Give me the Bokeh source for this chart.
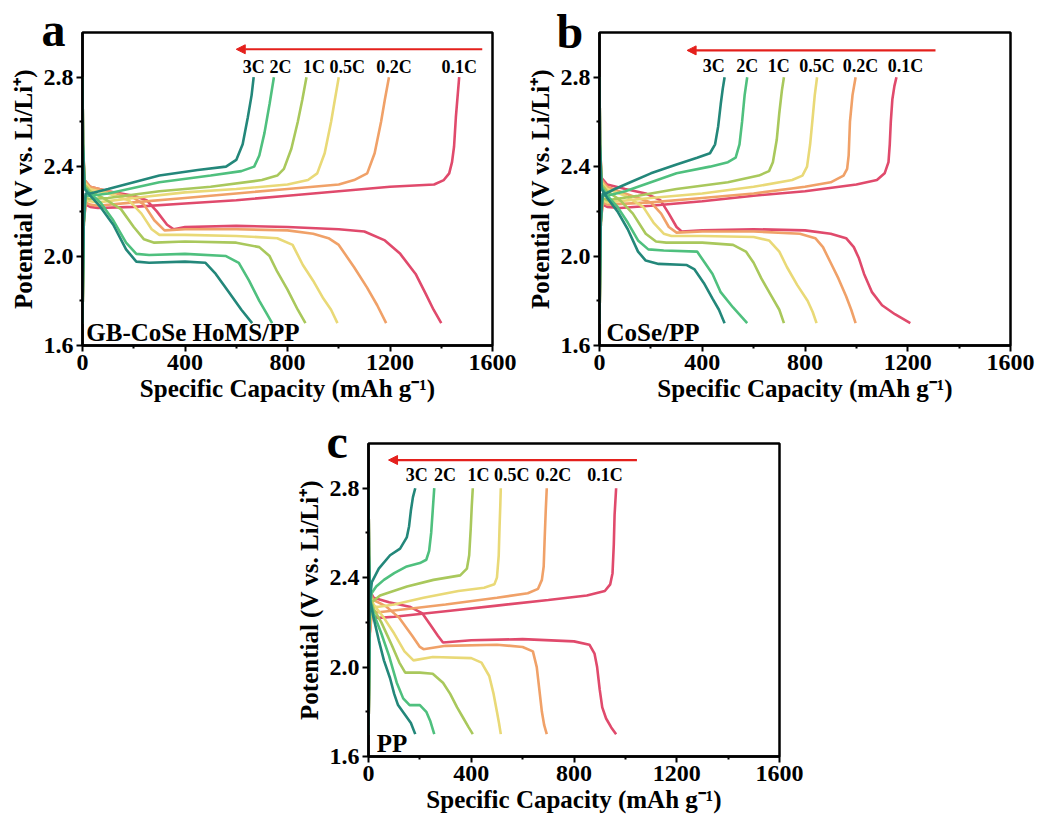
from bokeh.plotting import figure
from bokeh.layouts import column, row
from bokeh.models import (Range1d, FixedTicker, Label, Arrow, NormalHead, Spacer)
from bokeh.embed import file_html
from bokeh.resources import INLINE

# ---------------- data ----------------
rates = ["0.1C", "0.2C", "0.5C", "1C", "2C", "3C"]
colors = ["#e04a6c", "#f0a168", "#e9d977", "#a9c85c", "#4fc07e", "#23877a"]

x_ticks = [0, 400, 800, 1200, 1600]
x_minor = [200, 600, 1000, 1400]
y_ticks = [1.6, 2.0, 2.4, 2.8]
y_minor = [1.8, 2.2, 2.6]
x_tick_labels = ["0", "400", "800", "1200", "1600"]
y_tick_labels = ["1.6", "2.0", "2.4", "2.8"]

# Panel a : GB-CoSe HoMS/PP
a_dis_x = [
    [0, 2, 8, 30, 100, 200, 250, 290, 330, 356, 400, 600, 800, 1000, 1100, 1180, 1240, 1300, 1340, 1370, 1400],
    [0, 2, 8, 30, 100, 200, 240, 280, 320, 400, 600, 800, 900, 960, 1000, 1060, 1110, 1150, 1185],
    [0, 2, 8, 30, 100, 180, 230, 270, 300, 400, 600, 760, 820, 860, 900, 940, 970, 995],
    [0, 2, 8, 30, 80, 150, 200, 240, 280, 400, 600, 690, 730, 760, 800, 840, 870],
    [0, 2, 8, 30, 70, 120, 170, 210, 260, 400, 560, 610, 650, 690, 720, 740],
    [0, 2, 8, 30, 70, 120, 170, 210, 260, 400, 480, 520, 570, 620, 662],
]
a_dis_y = [
    [2.80, 2.50, 2.34, 2.31, 2.29, 2.27, 2.25, 2.20, 2.14, 2.12, 2.13, 2.135, 2.13, 2.12, 2.11, 2.07, 2.01, 1.92, 1.83, 1.76, 1.70],
    [2.80, 2.50, 2.34, 2.31, 2.29, 2.26, 2.23, 2.16, 2.115, 2.12, 2.12, 2.115, 2.10, 2.08, 2.05, 1.95, 1.86, 1.78, 1.70],
    [2.80, 2.50, 2.33, 2.30, 2.28, 2.25, 2.19, 2.12, 2.095, 2.095, 2.09, 2.08, 2.05, 1.96, 1.89, 1.81, 1.76, 1.70],
    [2.80, 2.50, 2.32, 2.29, 2.26, 2.21, 2.13, 2.075, 2.06, 2.065, 2.06, 2.04, 2.00, 1.93, 1.85, 1.76, 1.70],
    [2.80, 2.50, 2.31, 2.28, 2.24, 2.16, 2.06, 2.01, 2.005, 2.01, 2.00, 1.97, 1.89, 1.80, 1.74, 1.70],
    [2.80, 2.50, 2.30, 2.27, 2.22, 2.14, 2.03, 1.975, 1.97, 1.975, 1.97, 1.92, 1.84, 1.76, 1.70],
]
a_chg_x = [
    [0, 2, 5, 12, 30, 60, 200, 400, 600, 800, 1000, 1200, 1372, 1410, 1431, 1442, 1450, 1457, 1470],
    [0, 2, 5, 12, 30, 60, 200, 400, 600, 800, 1000, 1060, 1111, 1140, 1165, 1180, 1196],
    [0, 2, 5, 12, 30, 60, 200, 400, 600, 800, 880, 916, 945, 970, 985, 1000],
    [0, 2, 5, 12, 30, 100, 300, 500, 700, 760, 786, 815, 840, 858, 874],
    [0, 2, 5, 12, 30, 100, 300, 500, 620, 670, 690, 710, 730, 747],
    [0, 2, 5, 12, 30, 100, 200, 300, 450, 560, 600, 625, 645, 660, 668],
]
a_chg_y = [
    [1.70, 1.90, 2.15, 2.23, 2.22, 2.215, 2.22, 2.235, 2.25, 2.27, 2.29, 2.31, 2.32, 2.34, 2.37, 2.42, 2.49, 2.62, 2.80],
    [1.70, 1.90, 2.15, 2.24, 2.23, 2.225, 2.24, 2.26, 2.28, 2.30, 2.32, 2.34, 2.37, 2.46, 2.60, 2.70, 2.80],
    [1.70, 1.90, 2.15, 2.25, 2.245, 2.24, 2.26, 2.285, 2.30, 2.32, 2.34, 2.37, 2.46, 2.60, 2.70, 2.80],
    [1.70, 1.90, 2.15, 2.26, 2.255, 2.26, 2.29, 2.31, 2.34, 2.36, 2.39, 2.48, 2.60, 2.70, 2.80],
    [1.70, 1.90, 2.15, 2.27, 2.27, 2.28, 2.33, 2.36, 2.38, 2.40, 2.45, 2.55, 2.68, 2.80],
    [1.70, 1.90, 2.15, 2.28, 2.28, 2.30, 2.33, 2.36, 2.385, 2.40, 2.43, 2.50, 2.62, 2.72, 2.80],
]

# Panel b : CoSe/PP
b_dis_x = [
    [0, 2, 8, 30, 100, 180, 237, 270, 300, 320, 400, 600, 800, 900, 960, 990, 1010, 1030, 1060, 1100, 1150, 1210],
    [0, 2, 8, 30, 100, 200, 240, 270, 300, 400, 600, 780, 840, 870, 900, 930, 960, 980, 997],
    [0, 2, 8, 30, 100, 170, 210, 250, 280, 400, 600, 660, 700, 730, 770, 810, 830, 845],
    [0, 2, 8, 30, 80, 130, 180, 220, 260, 400, 520, 570, 600, 630, 670, 700, 718],
    [0, 2, 8, 30, 70, 110, 150, 190, 250, 380, 410, 440, 471, 520, 575],
    [0, 2, 8, 30, 70, 110, 150, 180, 230, 340, 370, 406, 440, 465, 487],
]
b_dis_y = [
    [2.80, 2.50, 2.35, 2.32, 2.30, 2.28, 2.25, 2.19, 2.13, 2.11, 2.115, 2.12, 2.115, 2.10, 2.08, 2.04, 1.99, 1.92, 1.84, 1.78, 1.74, 1.70],
    [2.80, 2.50, 2.34, 2.31, 2.28, 2.24, 2.19, 2.13, 2.105, 2.11, 2.11, 2.10, 2.08, 2.04, 1.97, 1.90, 1.82, 1.76, 1.70],
    [2.80, 2.50, 2.33, 2.30, 2.27, 2.22, 2.15, 2.10, 2.09, 2.09, 2.085, 2.07, 2.02, 1.95, 1.87, 1.80, 1.75, 1.70],
    [2.80, 2.50, 2.32, 2.29, 2.25, 2.19, 2.10, 2.065, 2.06, 2.06, 2.05, 2.02, 1.97, 1.90, 1.82, 1.76, 1.70],
    [2.80, 2.50, 2.31, 2.27, 2.22, 2.15, 2.07, 2.03, 2.025, 2.02, 1.97, 1.92, 1.84, 1.77, 1.70],
    [2.80, 2.50, 2.30, 2.26, 2.20, 2.12, 2.02, 1.98, 1.965, 1.96, 1.94, 1.88, 1.81, 1.76, 1.70],
]
b_chg_x = [
    [0, 2, 5, 12, 30, 80, 200, 400, 600, 800, 1000, 1080, 1110, 1125, 1130, 1134, 1140, 1148, 1156],
    [0, 2, 5, 12, 30, 200, 400, 600, 800, 900, 950, 964, 970, 975, 985, 997],
    [0, 2, 5, 12, 30, 200, 400, 600, 750, 790, 808, 820, 830, 838, 847],
    [0, 2, 5, 12, 30, 150, 300, 500, 620, 660, 675, 690, 700, 710, 718],
    [0, 2, 5, 12, 30, 100, 200, 300, 430, 500, 530, 545, 555, 565, 575],
    [0, 2, 5, 12, 25, 60, 120, 200, 300, 380, 430, 450, 462, 472, 480, 487],
]
b_chg_y = [
    [1.70, 1.90, 2.15, 2.23, 2.22, 2.215, 2.225, 2.245, 2.27, 2.29, 2.32, 2.34, 2.37, 2.42, 2.50, 2.60, 2.70, 2.76, 2.80],
    [1.70, 1.90, 2.15, 2.24, 2.23, 2.24, 2.26, 2.28, 2.31, 2.33, 2.36, 2.39, 2.45, 2.60, 2.72, 2.80],
    [1.70, 1.90, 2.15, 2.25, 2.24, 2.26, 2.28, 2.31, 2.34, 2.36, 2.40, 2.50, 2.62, 2.72, 2.80],
    [1.70, 1.90, 2.15, 2.26, 2.25, 2.27, 2.30, 2.33, 2.36, 2.38, 2.42, 2.52, 2.64, 2.74, 2.80],
    [1.70, 1.90, 2.15, 2.27, 2.27, 2.29, 2.33, 2.37, 2.40, 2.42, 2.44, 2.50, 2.60, 2.72, 2.80],
    [1.70, 1.90, 2.15, 2.28, 2.28, 2.30, 2.33, 2.37, 2.41, 2.44, 2.46, 2.50, 2.58, 2.68, 2.75, 2.80],
]

# Panel c : PP
c_dis_x = [
    [0, 2, 6, 20, 80, 160, 210, 240, 270, 290, 400, 600, 800, 860, 880, 890, 900, 910, 925, 945, 964],
    [0, 2, 6, 20, 70, 120, 170, 200, 214, 300, 500, 600, 640, 655, 665, 675, 684, 694],
    [0, 2, 6, 20, 60, 100, 140, 175, 250, 400, 440, 470, 487, 500, 508, 515],
    [0, 2, 6, 20, 50, 90, 120, 143, 200, 250, 290, 318, 345, 370, 390, 406],
    [0, 2, 6, 20, 50, 80, 110, 135, 160, 200, 225, 240, 256],
    [0, 2, 6, 20, 40, 60, 84, 100, 115, 140, 165, 182],
]
c_dis_y = [
    [2.80, 2.50, 2.34, 2.31, 2.29, 2.27, 2.24, 2.19, 2.14, 2.11, 2.12, 2.125, 2.115, 2.10, 2.06, 2.00, 1.90, 1.82, 1.77, 1.73, 1.70],
    [2.80, 2.50, 2.33, 2.30, 2.27, 2.22, 2.14, 2.09, 2.08, 2.095, 2.10, 2.09, 2.07, 2.00, 1.90, 1.80, 1.74, 1.70],
    [2.80, 2.50, 2.32, 2.28, 2.22, 2.15, 2.07, 2.03, 2.045, 2.04, 2.02, 1.96, 1.88, 1.80, 1.75, 1.70],
    [2.80, 2.50, 2.31, 2.26, 2.20, 2.10, 2.02, 1.975, 1.975, 1.97, 1.93, 1.88, 1.82, 1.77, 1.73, 1.70],
    [2.80, 2.50, 2.30, 2.24, 2.15, 2.05, 1.93, 1.86, 1.83, 1.83, 1.80, 1.76, 1.70],
    [2.80, 2.50, 2.30, 2.22, 2.12, 2.03, 1.95, 1.88, 1.83, 1.79, 1.75, 1.70],
]
c_chg_x = [
    [0, 2, 5, 12, 40, 100, 300, 500, 700, 850, 920, 941, 950, 955, 958, 964],
    [0, 2, 5, 12, 40, 150, 300, 500, 620, 660, 675, 682, 686, 690, 694],
    [0, 2, 5, 12, 40, 100, 214, 350, 450, 490, 500, 507, 510, 513, 515],
    [0, 2, 5, 12, 45, 150, 253, 357, 383, 392, 398, 402, 406],
    [0, 2, 5, 12, 30, 60, 100, 149, 200, 225, 236, 244, 250, 256],
    [0, 2, 5, 13, 40, 84, 123, 149, 158, 165, 173, 182],
]
c_chg_y = [
    [1.70, 1.90, 2.15, 2.23, 2.22, 2.225, 2.25, 2.275, 2.30, 2.32, 2.34, 2.37, 2.42, 2.55, 2.68, 2.80],
    [1.70, 1.90, 2.15, 2.25, 2.245, 2.26, 2.28, 2.31, 2.33, 2.35, 2.39, 2.45, 2.58, 2.70, 2.80],
    [1.70, 1.90, 2.17, 2.27, 2.27, 2.28, 2.31, 2.34, 2.355, 2.37, 2.40, 2.50, 2.62, 2.72, 2.80],
    [1.70, 1.90, 2.20, 2.29, 2.32, 2.36, 2.39, 2.41, 2.44, 2.50, 2.62, 2.72, 2.80],
    [1.70, 1.90, 2.25, 2.33, 2.36, 2.39, 2.42, 2.45, 2.465, 2.48, 2.52, 2.60, 2.70, 2.80],
    [1.70, 1.90, 2.30, 2.38, 2.44, 2.50, 2.53, 2.58, 2.63, 2.70, 2.76, 2.80],
]

samples = ["GB-CoSe HoMS/PP", "CoSe/PP", "PP"]
letters = ["a", "b", "c"]

# ---------------- styling / layout (not data) ----------------
FONT = "Liberation Serif"
ARROW_RED = "#e4201c"


def make_panel(dis_x, dis_y, chg_x, chg_y, lab_x, lab_y, arr, sample, sample_x,
               letter, letter_off, borders, frame_w):
    bl, br, bt, bb = borders
    p = figure(frame_width=frame_w, frame_height=313,
               min_border_left=bl, min_border_right=br,
               min_border_top=bt, min_border_bottom=bb,
               x_range=Range1d(0, 1600), y_range=Range1d(1.6, 3.0),
               output_backend="svg", toolbar_location=None)
    p.background_fill_color = "white"
    p.border_fill_color = "white"
    p.xgrid.visible = False
    p.ygrid.visible = False
    p.outline_line_color = "black"
    p.outline_line_width = 2.5
    p.outline_line_alpha = 1.0

    # panel letter as a title (side panels are not clipped to the frame)
    p.title.text = letter
    p.title.align = "left"
    p.title.vertical_align = "bottom"
    p.title.offset = letter_off[0]
    p.title.standoff = letter_off[1]
    p.title.text_font = FONT
    p.title.text_font_style = "bold"
    p.title.text_font_size = "48px"
    p.title.text_color = "black"

    for i in range(len(rates)):
        p.line(chg_x[i], chg_y[i], line_color=colors[i], line_width=2.6)
        p.line(dis_x[i], dis_y[i], line_color=colors[i], line_width=2.6)

    for i, r in enumerate(rates):
        p.add_layout(Label(x=lab_x[i], y=lab_y, text=r, text_align="center",
                           text_baseline="middle", text_font=FONT,
                           text_font_style="bold", text_font_size="18px",
                           text_color="black"))

    p.add_layout(Arrow(end=NormalHead(size=9, fill_color=ARROW_RED,
                                      line_color=ARROW_RED),
                       x_start=arr[0], y_start=arr[2], x_end=arr[1], y_end=arr[2],
                       line_color=ARROW_RED, line_width=2.2))

    p.add_layout(Label(x=sample_x, y=1.6, text=sample, text_align="left",
                       text_baseline="bottom", text_font=FONT,
                       text_font_style="bold", text_font_size="25px",
                       text_color="black"))

    p.xaxis.ticker = FixedTicker(ticks=x_ticks, minor_ticks=x_minor)
    p.yaxis.ticker = FixedTicker(ticks=y_ticks, minor_ticks=y_minor)
    p.xaxis.major_label_overrides = {t: s for t, s in zip(x_ticks, x_tick_labels)}
    p.yaxis.major_label_overrides = {t: s for t, s in zip(y_ticks, y_tick_labels)}
    p.xaxis.axis_label = "Specific Capacity (mAh g\u207b\u00b9)"
    p.yaxis.axis_label = "Potential (V vs. Li/Li\u207a)"
    for ax in (p.xaxis[0], p.yaxis[0]):
        ax.axis_line_width = 2.5
        ax.axis_line_color = "black"
        ax.major_tick_line_width = 2
        ax.minor_tick_line_width = 2
        ax.major_tick_line_color = "black"
        ax.minor_tick_line_color = "black"
        ax.major_tick_out = 6
        ax.major_tick_in = 0
        ax.minor_tick_out = 3
        ax.minor_tick_in = 0
        ax.major_label_text_font = FONT
        ax.major_label_text_font_style = "bold"
        ax.major_label_text_font_size = "24px"
        ax.major_label_text_color = "black"
        ax.axis_label_text_font = FONT
        ax.axis_label_text_font_style = "bold"
        ax.axis_label_text_font_size = "25px"
        ax.axis_label_text_color = "black"
        ax.major_label_standoff = 3
    p.xaxis.axis_label_standoff = 2
    p.yaxis.axis_label_standoff = 4
    return p


pa = make_panel(a_dis_x, a_dis_y, a_chg_x, a_chg_y,
                [1470, 1216, 1033, 903, 773, 668], 2.845,
                (1560, 600, 2.925), samples[0], 15,
                letters[0], (-41, -47), (82, 27, 32, 65), 410)
pb = make_panel(b_dis_x, b_dis_y, b_chg_x, b_chg_y,
                [1191, 1016, 847, 698, 575, 445], 2.848,
                (1308, 341, 2.92), samples[1], 27,
                letters[1], (-43, -50), (80, 28, 31, 67), 411)
pc = make_panel(c_dis_x, c_dis_y, c_chg_x, c_chg_y,
                [921, 720, 558, 428, 298, 188], 2.86,
                (1045, 78, 2.926), samples[2], 32,
                letters[2], (-42, -48), (78, 31, 32, 66), 411)

layout = column(row(pa, pb, spacing=0),
                row(Spacer(width=290, height=411), pc, spacing=0),
                spacing=0)

open("out.html", "w").write(file_html(layout, INLINE))
